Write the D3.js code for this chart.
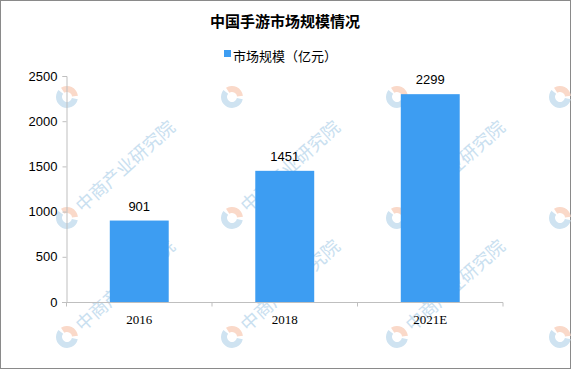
<!DOCTYPE html>
<html><head><meta charset="utf-8">
<script src="https://cdn.jsdelivr.net/npm/d3@7"></script>
<style>body{margin:0;background:#fff}svg{display:block}</style>
</head><body>
<script>
const categories = ["2016", "2018", "2021E"];
const values = [901, 1451, 2299];
const yTicks = [0, 500, 1000, 1500, 2000, 2500];
const title = "中国手游市场规模情况";
const seriesName = "市场规模（亿元）";
const watermark = "中商产业研究院";

const W = 571, H = 369;
const svg = d3.select("body").append("svg").attr("width", W).attr("height", H);
svg.append("rect").attr("x",0.5).attr("y",0.5).attr("width",W-1).attr("height",H-1)
  .attr("fill","#fff").attr("stroke","#8a8a8a");

// watermarks: logos on a grid, text only where it fits inside the frame
const wm = svg.append("g");
const wx = [67, 232, 397, 560], wy = [97, 218, 337];
wy.forEach(y => wx.forEach(x => {
  const g = wm.append("g").attr("transform", `translate(${x},${y}) rotate(-42)`);
  g.append("path").attr("d", d3.arc()({innerRadius:5, outerRadius:11, startAngle:Math.PI*0.05, endAngle:Math.PI*0.7}))
    .attr("fill","#fad9c9");
  g.append("path").attr("d", d3.arc()({innerRadius:5, outerRadius:11, startAngle:Math.PI*0.8, endAngle:Math.PI*1.95}))
    .attr("fill","#cfe3f1");
  if (y > 150 && x < 500) g.append("text").attr("x",15).attr("y",7).attr("font-family","Noto Sans CJK SC")
    .attr("font-size",18).attr("fill","#c9e0f0").text(watermark);
}));

const x = d3.scaleBand().domain(categories).range([66.5, 503]).paddingInner(0.595).paddingOuter(0.2975);
const y = d3.scaleLinear().domain([0, 2500]).range([302, 76]);

svg.append("text").attr("x", 285).attr("y", 27).attr("text-anchor","middle")
  .attr("font-family","Noto Sans CJK SC").attr("font-weight","bold").attr("font-size",15)
  .attr("fill","#000").text(title);

svg.append("rect").attr("x",224).attr("y",50).attr("width",7).attr("height",7).attr("fill","#3d9df2");
svg.append("text").attr("x",233).attr("y",61).attr("font-family","Noto Sans CJK SC")
  .attr("font-size",13).attr("fill","#000").text(seriesName);

// bars
svg.selectAll("rect.bar").data(values).join("rect").attr("class","bar")
  .attr("x",(d,i)=>x(categories[i])).attr("width",x.bandwidth())
  .attr("y",d=>y(d)).attr("height",d=>y(0)-y(d)).attr("fill","#3d9df2");

svg.selectAll("text.val").data(values).join("text").attr("class","val")
  .attr("x",(d,i)=>x(categories[i])+x.bandwidth()/2).attr("y",d=>y(d)-10)
  .attr("text-anchor","middle").attr("font-family","Liberation Sans").attr("font-size",13)
  .attr("fill","#000").text(d=>d);

// y axis
const ya = svg.append("g").attr("transform","translate(66.5,0)")
  .call(d3.axisLeft(y).tickValues(yTicks).tickSize(4).tickPadding(5).tickFormat(d3.format("d")));
ya.selectAll("path,line").attr("stroke","#bfbfbf");
ya.selectAll("text").attr("font-family","Liberation Sans").attr("font-size",13).attr("fill","#000");

// x axis
const xa = svg.append("g").attr("transform","translate(0,302.5)")
  .call(d3.axisBottom(x).tickSize(0).tickPadding(12));
xa.select("path").attr("stroke","#bfbfbf").attr("d","M62,0H503");
xa.selectAll("text").attr("font-family","Liberation Serif").attr("font-size",13).attr("fill","#000");
const bounds = [66.5, 212, 357.5, 503];
xa.selectAll("line.sep").data(bounds).join("line").attr("class","sep")
  .attr("x1",d=>d).attr("x2",d=>d).attr("y1",0).attr("y2",4).attr("stroke","#bfbfbf");
</script>
</body></html>
